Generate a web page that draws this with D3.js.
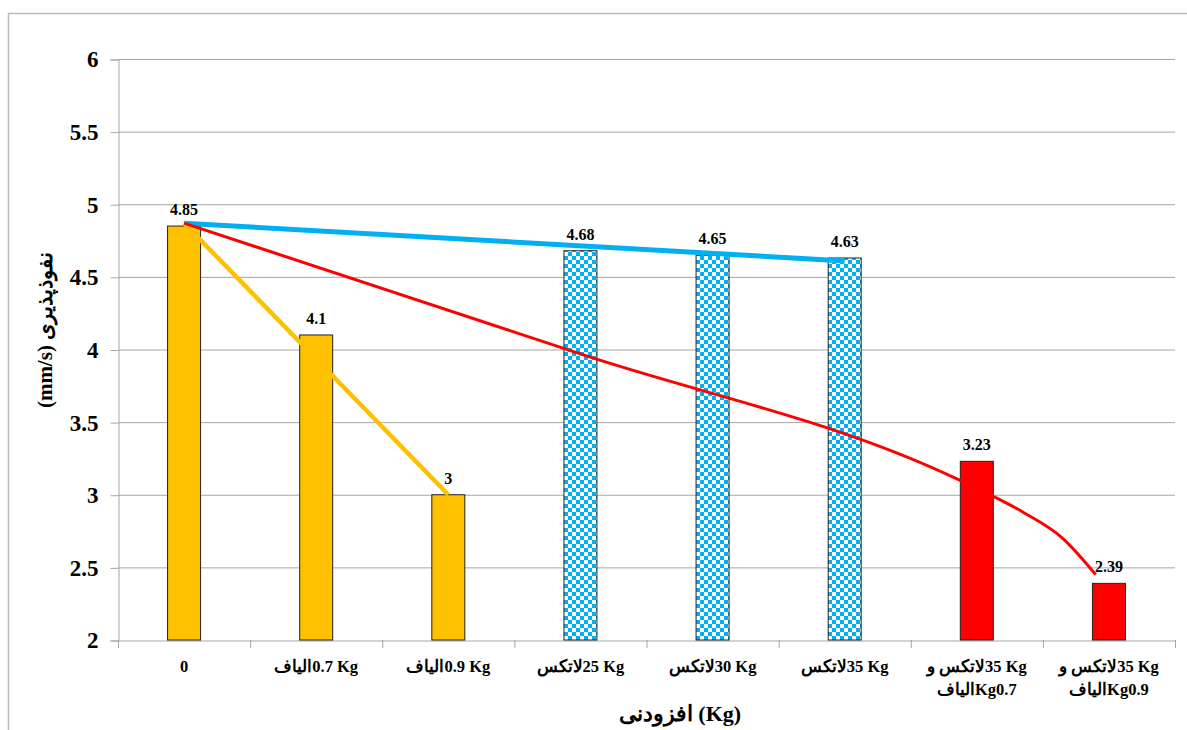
<!DOCTYPE html>
<html>
<head>
<meta charset="utf-8">
<script src="https://cdn.jsdelivr.net/npm/d3@7"></script>
<style>
  body { margin: 0; background: #fff; }
  svg text { font-family: "Liberation Serif", "Times New Roman", "DejaVu Serif", serif; font-weight: bold; }
</style>
</head>
<body>
<script>
// data
// (\u2066..\u2069 keeps the latin part together inside the rtl label)
const categories = [
  ["0"],
  ["\u20660.7 Kg\u2069الیاف"],
  ["\u20660.9 Kg\u2069الیاف"],
  ["\u206625 Kg\u2069لاتکس"],
  ["\u206630 Kg\u2069لاتکس"],
  ["\u206635 Kg\u2069لاتکس"],
  ["\u206635 Kg\u2069لاتکس و", "\u2066Kg0.7\u2069الیاف"],
  ["\u206635 Kg\u2069لاتکس و", "\u2066Kg0.9\u2069الیاف"]
];
const values = [4.85, 4.1, 3, 4.68, 4.65, 4.63, 3.23, 2.39];
const barKind = ["fiber", "fiber", "fiber", "latex", "latex", "latex", "mix", "mix"];
const yTicks = [2, 2.5, 3, 3.5, 4, 4.5, 5, 5.5, 6];

// hand drawn trend lines: [category index, value]
const yellowLine = [[0, 4.87], [2, 3.0]];
const blueLine = [[0, 4.87], [5, 4.61]];
const redLine = [[0, 4.87], [3, 3.97], [5.87, 3.10], [6.35, 2.88], [6.65, 2.70], [6.9, 2.45]];

const W = 1187, H = 730;
const plotL = 118, plotR = 1175, plotT = 59, plotB = 640;

const svg = d3.select("body").append("svg")
  .attr("width", W)
  .attr("height", H);

const defs = svg.append("defs");
const pat = defs.append("pattern")
  .attr("id", "checker")
  .attr("width", 8)
  .attr("height", 8)
  .attr("patternUnits", "userSpaceOnUse");
pat.append("rect").attr("width", 8).attr("height", 8).attr("fill", "#00B0F0");
pat.append("rect").attr("x", 0).attr("y", 0).attr("width", 4).attr("height", 4).attr("fill", "#fff");
pat.append("rect").attr("x", 4).attr("y", 4).attr("width", 4).attr("height", 4).attr("fill", "#fff");

// outer border
svg.append("rect")
  .attr("x", 8.5).attr("y", 13.5)
  .attr("width", W + 10).attr("height", H)
  .attr("fill", "none")
  .attr("stroke", "#bbb")
  .attr("stroke-width", 1.5);

const x = d3.scaleBand()
  .domain(d3.range(categories.length))
  .range([plotL, plotR]);

const xi = d3.scaleLinear()
  .domain([0, categories.length - 1])
  .range([plotL + x.bandwidth() / 2, plotR - x.bandwidth() / 2]);

const y = d3.scaleLinear()
  .domain([2, 6])
  .range([plotB, plotT]);

// grid
svg.append("g")
  .selectAll("line")
  .data(yTicks.slice(1))
  .join("line")
  .attr("x1", plotL)
  .attr("x2", plotR)
  .attr("y1", d => y(d) + 0.5)
  .attr("y2", d => y(d) + 0.5)
  .attr("stroke", "#a6a6a6")
  .attr("stroke-width", 1);

// y axis
const yAxis = svg.append("g")
  .attr("transform", `translate(${plotL + 0.5},0.5)`)
  .call(d3.axisLeft(y).tickValues(yTicks).tickSize(8).tickPadding(12).tickFormat(d3.format("")));
yAxis.attr("font-family", null);
yAxis.select(".domain").attr("stroke", "#a6a6a6");
yAxis.selectAll(".tick line").attr("stroke", "#a6a6a6");
yAxis.selectAll("text")
  .attr("font-size", 23)
  .attr("fill", "#000");

// x axis
const xAxis = svg.append("g")
  .attr("transform", `translate(0.5,${plotB + 0.5})`)
  .call(d3.axisBottom(x).tickSize(0).tickFormat(""));
xAxis.select(".domain").attr("stroke", "#a6a6a6");

svg.append("g")
  .selectAll("line")
  .data(d3.range(categories.length + 1))
  .join("line")
  .attr("x1", i => (i < categories.length ? x(i) : plotR) + 0.5)
  .attr("x2", i => (i < categories.length ? x(i) : plotR) + 0.5)
  .attr("y1", plotB)
  .attr("y2", plotB + 8)
  .attr("stroke", "#a6a6a6");

// category labels
const catG = svg.append("g");
categories.forEach((lines, i) => {
  const t = catG.append("text")
    .attr("x", x(i) + x.bandwidth() / 2)
    .attr("y", 672)
    .attr("text-anchor", "middle")
    .attr("font-size", 16.5)
    .attr("direction", "rtl");
  lines.forEach((ln, j) => {
    t.append("tspan")
      .attr("x", x(i) + x.bandwidth() / 2)
      .attr("dy", j === 0 ? 0 : 23)
      .text(ln);
  });
});

// bars
const barW = 33;
const fillFor = { fiber: "#FFC000", latex: "url(#checker)", mix: "#FF0000" };
svg.append("g")
  .selectAll("rect")
  .data(values)
  .join("rect")
  .attr("x", (d, i) => x(i) + x.bandwidth() / 2 - barW / 2)
  .attr("y", d => y(d))
  .attr("width", barW)
  .attr("height", d => y(2) - y(d))
  .attr("fill", (d, i) => fillFor[barKind[i]])
  .attr("stroke", "#222")
  .attr("stroke-width", 1);

// trend lines
const line = d3.line().x(d => xi(d[0])).y(d => y(d[1]));
svg.append("path")
  .datum(blueLine)
  .attr("d", line)
  .attr("fill", "none")
  .attr("stroke", "#00B0F0")
  .attr("stroke-width", 5);
svg.append("path")
  .datum(yellowLine)
  .attr("d", line)
  .attr("fill", "none")
  .attr("stroke", "#FFC000")
  .attr("stroke-width", 4.5);
svg.append("path")
  .datum(redLine)
  .attr("d", line.curve(d3.curveMonotoneX))
  .attr("fill", "none")
  .attr("stroke", "#FF0000")
  .attr("stroke-width", 3);

// value labels
svg.append("g")
  .selectAll("text")
  .data(values)
  .join("text")
  .attr("x", (d, i) => x(i) + x.bandwidth() / 2)
  .attr("y", d => y(d) - 11)
  .attr("text-anchor", "middle")
  .attr("font-size", 16)
  .attr("fill", "#000")
  .text(d => d);

// axis titles
svg.append("text")
  .attr("x", 680)
  .attr("y", 721)
  .attr("text-anchor", "middle")
  .attr("font-size", 22)
  .attr("direction", "rtl")
  .text("\u2066(Kg)\u2069 افزودنی");

svg.append("text")
  .attr("transform", "translate(52,330) rotate(-90)")
  .attr("text-anchor", "middle")
  .attr("font-size", 21)
  .attr("direction", "rtl")
  .text("نفوذپذیری  \u2066(mm/s)\u2069");
</script>
</body>
</html>
